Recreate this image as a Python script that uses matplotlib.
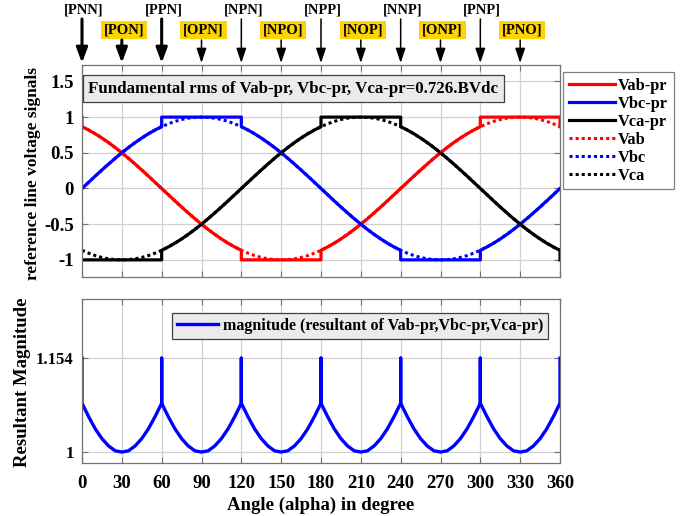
import matplotlib
matplotlib.use("Agg")
import matplotlib.pyplot as plt
import matplotlib.transforms as mtransforms

plt.rcParams['font.family'] = ['Liberation Serif', 'DejaVu Serif']
plt.rcParams['font.weight'] = 'bold'
plt.rcParams['axes.labelweight'] = 'bold'

# ---------------- data ----------------
angle = list(range(0, 361, 5))

vab = [0.866, 0.819, 0.766, 0.707, 0.643, 0.574, 0.5, 0.423, 0.342, 0.259, 0.174, 0.087, 0.0,
       -0.087, -0.174, -0.259, -0.342, -0.423, -0.5, -0.574, -0.643, -0.707, -0.766, -0.819, -0.866,
       -0.906, -0.940, -0.966, -0.985, -0.996, -1.0,
       -0.996, -0.985, -0.966, -0.940, -0.906, -0.866, -0.819, -0.766, -0.707, -0.643, -0.574, -0.5,
       -0.423, -0.342, -0.259, -0.174, -0.087, 0.0,
       0.087, 0.174, 0.259, 0.342, 0.423, 0.5, 0.574, 0.643, 0.707, 0.766, 0.819, 0.866,
       0.906, 0.940, 0.966, 0.985, 0.996, 1.0,
       0.996, 0.985, 0.966, 0.940, 0.906, 0.866]

vbc = [0.0, 0.087, 0.174, 0.259, 0.342, 0.423, 0.5, 0.574, 0.643, 0.707, 0.766, 0.819, 0.866,
       0.906, 0.940, 0.966, 0.985, 0.996, 1.0,
       0.996, 0.985, 0.966, 0.940, 0.906, 0.866, 0.819, 0.766, 0.707, 0.643, 0.574, 0.5,
       0.423, 0.342, 0.259, 0.174, 0.087, 0.0,
       -0.087, -0.174, -0.259, -0.342, -0.423, -0.5, -0.574, -0.643, -0.707, -0.766, -0.819, -0.866,
       -0.906, -0.940, -0.966, -0.985, -0.996, -1.0,
       -0.996, -0.985, -0.966, -0.940, -0.906, -0.866, -0.819, -0.766, -0.707, -0.643, -0.574, -0.5,
       -0.423, -0.342, -0.259, -0.174, -0.087, 0.0]

vca = [-0.866, -0.906, -0.940, -0.966, -0.985, -0.996, -1.0,
       -0.996, -0.985, -0.966, -0.940, -0.906, -0.866, -0.819, -0.766, -0.707, -0.643, -0.574, -0.5,
       -0.423, -0.342, -0.259, -0.174, -0.087, 0.0,
       0.087, 0.174, 0.259, 0.342, 0.423, 0.5, 0.574, 0.643, 0.707, 0.766, 0.819, 0.866,
       0.906, 0.940, 0.966, 0.985, 0.996, 1.0,
       0.996, 0.985, 0.966, 0.940, 0.906, 0.866, 0.819, 0.766, 0.707, 0.643, 0.574, 0.5,
       0.423, 0.342, 0.259, 0.174, 0.087, 0.0,
       -0.087, -0.174, -0.259, -0.342, -0.423, -0.5, -0.574, -0.643, -0.707, -0.766, -0.819, -0.866]

# modified (clamped) references, with vertical steps at the edges of the flat parts
vab_pr_angle = [0] + list(range(0, 121, 5)) + [120, 180] + list(range(180, 301, 5)) + [300, 360, 360]
vab_pr = [1.0,
          0.866, 0.819, 0.766, 0.707, 0.643, 0.574, 0.5, 0.423, 0.342, 0.259, 0.174, 0.087, 0.0,
          -0.087, -0.174, -0.259, -0.342, -0.423, -0.5, -0.574, -0.643, -0.707, -0.766, -0.819, -0.866,
          -1.0, -1.0,
          -0.866, -0.819, -0.766, -0.707, -0.643, -0.574, -0.5, -0.423, -0.342, -0.259, -0.174, -0.087, 0.0,
          0.087, 0.174, 0.259, 0.342, 0.423, 0.5, 0.574, 0.643, 0.707, 0.766, 0.819, 0.866,
          1.0, 1.0, 0.866]

vbc_pr_angle = list(range(0, 61, 5)) + [60, 120] + list(range(120, 241, 5)) + [240, 300] + list(range(300, 361, 5))
vbc_pr = [0.0, 0.087, 0.174, 0.259, 0.342, 0.423, 0.5, 0.574, 0.643, 0.707, 0.766, 0.819, 0.866,
          1.0, 1.0,
          0.866, 0.819, 0.766, 0.707, 0.643, 0.574, 0.5, 0.423, 0.342, 0.259, 0.174, 0.087, 0.0,
          -0.087, -0.174, -0.259, -0.342, -0.423, -0.5, -0.574, -0.643, -0.707, -0.766, -0.819, -0.866,
          -1.0, -1.0,
          -0.866, -0.819, -0.766, -0.707, -0.643, -0.574, -0.5, -0.423, -0.342, -0.259, -0.174, -0.087, 0.0]

vca_pr_angle = [0, 60] + list(range(60, 181, 5)) + [180, 240] + list(range(240, 361, 5)) + [360]
vca_pr = [-1.0, -1.0,
          -0.866, -0.819, -0.766, -0.707, -0.643, -0.574, -0.5, -0.423, -0.342, -0.259, -0.174, -0.087, 0.0,
          0.087, 0.174, 0.259, 0.342, 0.423, 0.5, 0.574, 0.643, 0.707, 0.766, 0.819, 0.866,
          1.0, 1.0,
          0.866, 0.819, 0.766, 0.707, 0.643, 0.574, 0.5, 0.423, 0.342, 0.259, 0.174, 0.087, 0.0,
          -0.087, -0.174, -0.259, -0.342, -0.423, -0.5, -0.574, -0.643, -0.707, -0.766, -0.819, -0.866,
          -1.0]

mag_angle = ([0, 0] + list(range(5, 56, 5)) + [60, 60, 60] + list(range(65, 116, 5)) + [120, 120, 120]
             + list(range(125, 176, 5)) + [180, 180, 180] + list(range(185, 236, 5)) + [240, 240, 240]
             + list(range(245, 296, 5)) + [300, 300, 300] + list(range(305, 356, 5)) + [360, 360])
magnitude = [1.154, 1.080,
             1.058, 1.038, 1.022, 1.010, 1.002, 1.000, 1.002, 1.010, 1.022, 1.038, 1.058,
             1.080, 1.154, 1.080,
             1.058, 1.038, 1.022, 1.010, 1.002, 1.000, 1.002, 1.010, 1.022, 1.038, 1.058,
             1.080, 1.154, 1.080,
             1.058, 1.038, 1.022, 1.010, 1.002, 1.000, 1.002, 1.010, 1.022, 1.038, 1.058,
             1.080, 1.154, 1.080,
             1.058, 1.038, 1.022, 1.010, 1.002, 1.000, 1.002, 1.010, 1.022, 1.038, 1.058,
             1.080, 1.154, 1.080,
             1.058, 1.038, 1.022, 1.010, 1.002, 1.000, 1.002, 1.010, 1.022, 1.038, 1.058,
             1.080, 1.154, 1.080,
             1.058, 1.038, 1.022, 1.010, 1.002, 1.000, 1.002, 1.010, 1.022, 1.038, 1.058,
             1.080, 1.154]

state_angle = [0, 30, 60, 90, 120, 150, 180, 210, 240, 270, 300, 330]
state_label = ['[PNN]', '[PON]', '[PPN]', '[OPN]', '[NPN]', '[NPO]',
               '[NPP]', '[NOP]', '[NNP]', '[ONP]', '[PNP]', '[PNO]']

x_ticks = list(range(0, 361, 30))
top_yticks = [-1, -0.5, 0, 0.5, 1, 1.5]
top_yticklabels = ['-1', '-0.5', '0', '0.5', '1', '1.5']
bot_yticks = [1, 1.154]
bot_yticklabels = ['1', '1.154']

title_text = 'Fundamental rms of Vab-pr, Vbc-pr, Vca-pr=0.726.BVdc'

# ---------------- figure ----------------
W, H = 684, 516
fig = plt.figure(figsize=(W / 100, H / 100), dpi=100)

def fig_rect(l, t, r, b):
    return [l / W, 1 - b / H, (r - l) / W, (b - t) / H]

ax1 = fig.add_axes(fig_rect(82, 65, 560, 277))
ax2 = fig.add_axes(fig_rect(82, 299, 560, 463))

frame_col = '0.45'
grid_col = '0.82'
for ax in (ax1, ax2):
    ax.set_xlim(0, 360)
    ax.set_xticks(x_ticks)
    ax.grid(True, color=grid_col, lw=0.9)
    ax.set_axisbelow(True)
    ax.tick_params(direction='in', top=True, right=True, length=4, color=frame_col,
                   labelsize=13.5, pad=6)
    for s in ax.spines.values():
        s.set_color(frame_col)
        s.set_linewidth(0.9)
ax2.tick_params(axis='x', pad=9)
ax2.tick_params(axis='y', labelsize=12, pad=6)

# top axes
lw = 2.3
ax1.plot(vab_pr_angle, vab_pr, color='#ff0000', lw=lw, label='Vab-pr')
ax1.plot(vbc_pr_angle, vbc_pr, color='#0000ff', lw=lw, label='Vbc-pr')
ax1.plot(vca_pr_angle, vca_pr, color='black', lw=lw, label='Vca-pr')
ax1.plot(angle, vab, color='#ff0000', lw=2.2, ls=(0, (1, 1)), label='Vab')
ax1.plot(angle, vbc, color='#0000ff', lw=2.2, ls=(0, (1, 1)), label='Vbc')
ax1.plot(angle, vca, color='black', lw=2.2, ls=(0, (1, 1)), label='Vca')
ax1.set_ylim(-1.24, 1.73)
ax1.set_yticks(top_yticks)
ax1.set_yticklabels(top_yticklabels)
ax1.set_xticklabels([])
ax1.set_ylabel('reference line voltage signals', fontsize=12.5)
ax1.yaxis.set_label_coords(-0.086, 0.49)

leg1 = fig.legend(loc='upper left', bbox_to_anchor=(563 / W, 1 - 72 / H), borderaxespad=0,
                  fontsize=11.8, handlelength=2.8, labelspacing=0.12, handletextpad=0.2,
                  borderpad=0.35, fancybox=False, framealpha=1, edgecolor='0.5')
leg1.get_frame().set_linewidth(0.9)

ax1.text(0.013, 0.889, title_text, transform=ax1.transAxes, fontsize=12.2, fontweight='bold',
         va='center', ha='left', zorder=5,
         bbox=dict(boxstyle='square,pad=0.33', facecolor='#ebebeb', edgecolor='0.25', lw=0.9))

# bottom axes
ax2.plot(mag_angle, magnitude, color='#0000ff', lw=2.4,
         label='magnitude (resultant of Vab-pr,Vbc-pr,Vca-pr)')
ax2.set_ylim(0.982, 1.251)
ax2.set_yticks(bot_yticks)
ax2.set_yticklabels(bot_yticklabels)
ax2.set_xticklabels([str(v) for v in x_ticks])
ax2.set_xlabel('Angle (alpha) in degree', fontsize=13.5, labelpad=3)
ax2.set_ylabel('Resultant Magnitude', fontsize=13.5)
ax2.yaxis.set_label_coords(-0.107, 0.49)
leg2 = ax2.legend(loc='upper left', bbox_to_anchor=(0.188, 0.915), borderaxespad=0,
                  fontsize=11.5, handlelength=2.6, handletextpad=0.3, borderpad=0.3,
                  fancybox=False, framealpha=1, facecolor='#ebebeb', edgecolor='0.25')
leg2.get_frame().set_linewidth(0.9)

# state annotations above the top axes
trans = mtransforms.blended_transform_factory(ax1.transData, fig.transFigure)
tip_y = 1 - 63 / H
for i, (a, lab) in enumerate(zip(state_angle, state_label)):
    thick = i < 3
    if i % 2 == 0:
        ty, tail = 1 - 10 / H, 1 - 19 / H
        bbox = None
    else:
        ty, tail = 1 - 30 / H, 1 - 40 / H
        bbox = dict(boxstyle='square,pad=0.2', facecolor='#fcd500', edgecolor='none')
    ax1.text(a + 1.5, ty, lab, transform=trans, ha='center', va='center', fontsize=10.5,
             fontweight='bold', bbox=bbox, clip_on=False)
    if thick:
        style, alw, ms = '-|>,head_length=0.75,head_width=0.28', 2.2, 12
    else:
        style, alw, ms = '-|>,head_length=0.8,head_width=0.27', 1.1, 11
    ax1.annotate('', xy=(a, tip_y), xytext=(a, tail), xycoords=trans, textcoords=trans,
                 annotation_clip=False,
                 arrowprops=dict(arrowstyle=style, lw=alw, color='black',
                                 mutation_scale=ms, shrinkA=0, shrinkB=0))

fig.savefig('out.png', dpi=100)
